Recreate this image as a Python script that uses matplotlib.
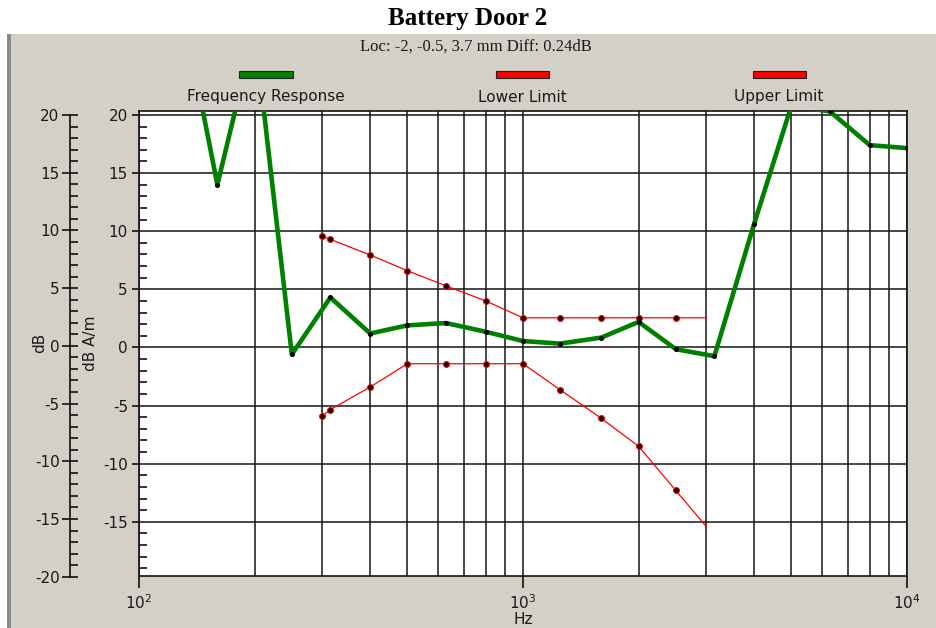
import matplotlib
matplotlib.use("Agg")
import matplotlib.pyplot as plt
from matplotlib.patches import Rectangle
from matplotlib.ticker import MultipleLocator, LogLocator, FixedLocator, NullFormatter

# ---------------- data ----------------
resp_hz = [125, 160, 200, 250, 315, 400, 500, 630, 800, 1000, 1250, 1600,
           2000, 2500, 3150, 4000, 5000, 6300, 8000, 10000]
resp_db = [32.0, 14.0, 27.3, -0.6, 4.3, 1.2, 1.9, 2.1, 1.35, 0.55, 0.33, 0.85,
           2.2, -0.15, -0.75, 10.65, 20.8, 20.3, 17.4, 17.15]

lower_hz = [300, 315, 400, 500, 630, 800, 1000, 1250, 1600, 2000, 2500, 3000]
lower_db = [-5.9, -5.35, -3.4, -1.4, -1.4, -1.4, -1.4, -3.65, -6.1, -8.5, -12.3, -15.4]

upper_hz = [300, 315, 400, 500, 630, 800, 1000, 1250, 1600, 2000, 2500, 3000]
upper_db = [9.6, 9.3, 7.95, 6.6, 5.3, 4.0, 2.55, 2.55, 2.55, 2.55, 2.55, 2.55]

series_names = ["Frequency Response", "Lower Limit", "Upper Limit"]
series_colors = ["#008000", "#ff0000", "#ff0000"]

title = "Battery Door 2"
subtitle = "Loc: -2, -0.5, 3.7 mm Diff: 0.24dB"
x_ticks = [100, 1000, 10000]
x_ticklabels = [r"$\mathregular{10^{2}}$", r"$\mathregular{10^{3}}$", r"$\mathregular{10^{4}}$"]
y_ticks = [-15, -10, -5, 0, 5, 10, 15, 20]
y_ticks_outer = [-20, -15, -10, -5, 0, 5, 10, 15, 20]

# ---------------- figure ----------------
W, H = 936, 628
plt.rcParams['font.family'] = ['DejaVu Sans']
plt.rcParams['mathtext.default'] = 'regular'
fig = plt.figure(figsize=(W / 100, H / 100), dpi=100)
fig.patch.set_facecolor('white')

PANEL = '#D4D0C8'
fig.add_artist(Rectangle((10 / W, 0), 1, 1 - 34 / H, transform=fig.transFigure,
                         facecolor=PANEL, edgecolor='none', zorder=-10))
fig.add_artist(Rectangle((7 / W, 0), 4 / W, 1 - 34 / H, transform=fig.transFigure,
                         facecolor='#8a8a8a', edgecolor='none', zorder=-9))

FS = 11
TXT = '#1a1a1a'

# main axes
ax = fig.add_axes([139 / W, 1 - 576 / H, (907 - 139) / W, (576 - 111) / H])
ax.set_facecolor('white')
ax.set_xscale('log')
ax.set_xlim(100, 10000)
ax.set_ylim(-19.66, 20.34)

ax.xaxis.set_major_locator(FixedLocator(x_ticks))
ax.set_xticklabels(x_ticklabels, fontsize=FS)
ax.xaxis.set_minor_locator(LogLocator(base=10, subs=range(2, 10)))
ax.xaxis.set_minor_formatter(NullFormatter())
ax.set_yticks(y_ticks)
ax.set_yticklabels([str(v) for v in y_ticks], fontsize=FS)
ax.yaxis.set_minor_locator(MultipleLocator(1))

ax.tick_params(axis='x', which='major', direction='out', length=8.5, width=1.2, pad=4,
               color='#111', labelcolor=TXT)
ax.tick_params(axis='x', which='minor', length=0)
ax.tick_params(axis='y', which='major', direction='out', length=5, width=1.2, pad=3,
               color='#111', labelcolor=TXT)
ax.tick_params(axis='y', which='minor', direction='in', length=6, width=1.2, color='#111')

grid_kw = dict(color='#151515', linewidth=1.1)
ax.grid(True, which='major', axis='y', **grid_kw)
ax.grid(True, which='both', axis='x', **grid_kw)
ax.set_axisbelow(True)
for s in ax.spines.values():
    s.set_linewidth(1.2)
    s.set_color('#111')

ax.plot(resp_hz, resp_db, color=series_colors[0], linewidth=3.3, zorder=5,
        marker='o', markersize=2.6, markerfacecolor='black', markeredgecolor='black',
        solid_joinstyle='round')
ax.plot(lower_hz, lower_db, color=series_colors[1], linewidth=0.9, zorder=4,
        marker='o', markersize=4.2, markerfacecolor='black', markeredgecolor=series_colors[1],
        markeredgewidth=0.8, markevery=list(range(len(lower_hz) - 1)))
ax.plot(upper_hz, upper_db, color=series_colors[2], linewidth=0.9, zorder=4,
        marker='o', markersize=4.2, markerfacecolor='black', markeredgecolor=series_colors[2],
        markeredgewidth=0.8, markevery=list(range(len(upper_hz) - 1)))

ax.set_xlabel('Hz', fontsize=FS, labelpad=0, color=TXT)

# outer dB axis
ax2 = fig.add_axes([70 / W, 1 - 576.7 / H, 0.0001, (576.7 - 115) / H])
ax2.patch.set_visible(False)
for k in ['top', 'right', 'bottom']:
    ax2.spines[k].set_visible(False)
ax2.spines['left'].set_linewidth(1.2)
ax2.spines['left'].set_color('#111')
ax2.set_ylim(-20, 20)
ax2.set_xticks([])
ax2.set_yticks(y_ticks_outer)
ax2.set_yticklabels([str(v) for v in y_ticks_outer], fontsize=FS)
ax2.yaxis.set_minor_locator(MultipleLocator(1))
ax2.tick_params(axis='y', which='major', direction='inout', length=11, width=1.2, pad=2,
                color='#111', labelcolor=TXT)
ax2.tick_params(axis='y', which='minor', direction='in', length=6, width=1.2, color='#111')

fig.text(40 / W, 1 - 343 / H, 'dB', rotation=90, ha='center', va='center', fontsize=FS, color=TXT)
fig.text(91 / W, 1 - 343 / H, 'dB A/m', rotation=90, ha='center', va='center', fontsize=FS, color=TXT)

# titles
fig.text(468 / W, 1 - 18 / H, title, ha='center', va='center', fontsize=18,
         fontweight='bold', family='Liberation Serif')
fig.text(476 / W, 1 - 47 / H, subtitle, ha='center', va='center', fontsize=12,
         family='Liberation Serif', color=TXT)

# legend
leg_x = [266, 522, 779]
for name, col, cx in zip(series_names, series_colors, leg_x):
    fig.add_artist(Rectangle(((cx - 26.5) / W, 1 - 78 / H), 53 / W, 7 / H,
                             transform=fig.transFigure, facecolor=col,
                             edgecolor='#222', linewidth=0.8))
    fig.text(cx / W, 1 - 97 / H, name, ha='center', va='center', fontsize=FS, color=TXT)

fig.savefig('out.png', dpi=100, facecolor=fig.get_facecolor())
